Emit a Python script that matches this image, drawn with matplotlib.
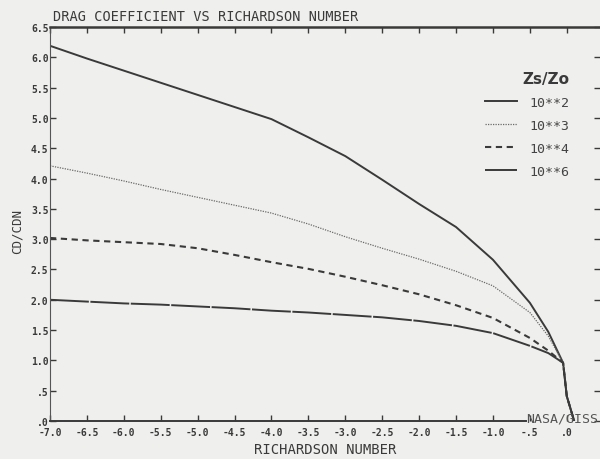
# drag coefficient vs richardson number, redrawn from an old NASA/GISS plot
import matplotlib
matplotlib.use("Agg")
from matplotlib import pyplot as plt

# data
ri = [-7.0, -6.5, -6.0, -5.5, -5.0, -4.5, -4.0, -3.5, -3.0, -2.5, -2.0, -1.5, -1.0, -0.5, -0.25, -0.05, 0.0, 0.1]
cd_1e2 = [6.19, 5.98, 5.78, 5.58, 5.38, 5.18, 4.98, 4.68, 4.37, 3.98, 3.58, 3.20, 2.66, 1.95, 1.47, 0.96, 0.41, 0.0]
cd_1e3 = [4.21, 4.09, 3.96, 3.82, 3.69, 3.56, 3.43, 3.25, 3.04, 2.85, 2.67, 2.47, 2.23, 1.79, 1.40, 0.96, 0.41, 0.0]
cd_1e4 = [3.02, 2.98, 2.95, 2.92, 2.85, 2.74, 2.62, 2.51, 2.38, 2.24, 2.09, 1.91, 1.70, 1.37, 1.16, 0.96, 0.41, 0.0]
cd_1e6 = [2.00, 1.97, 1.94, 1.92, 1.89, 1.86, 1.82, 1.79, 1.75, 1.71, 1.65, 1.57, 1.45, 1.24, 1.12, 0.96, 0.41, 0.0]
series_labels = ["10**2", "10**3", "10**4", "10**6"]

x_ticks = [-7.0, -6.5, -6.0, -5.5, -5.0, -4.5, -4.0, -3.5, -3.0, -2.5, -2.0, -1.5, -1.0, -0.5, 0.0]
x_tick_labels = ["-7.0", "-6.5", "-6.0", "-5.5", "-5.0", "-4.5", "-4.0", "-3.5", "-3.0",
                 "-2.5", "-2.0", "-1.5", "-1.0", "-.5", ".0"]
y_ticks = [0.0, 0.5, 1.0, 1.5, 2.0, 2.5, 3.0, 3.5, 4.0, 4.5, 5.0, 5.5, 6.0, 6.5]
y_tick_labels = [".0", ".5", "1.0", "1.5", "2.0", "2.5", "3.0", "3.5", "4.0", "4.5", "5.0", "5.5", "6.0", "6.5"]

paper = "#efefed"
ink = "#3a3a3a"
mono = "DejaVu Sans Mono"

fig = plt.figure(figsize=(6.0, 4.6), dpi=100, facecolor=paper)
ax = fig.add_axes([50 / 600, 38 / 460, 550 / 600, 394 / 460], facecolor=paper)

styles = [
    dict(linestyle="-", lw=1.4, color=ink),
    dict(linestyle=(0, (1, 1)), lw=0.9, color="#6a6a6a"),
    dict(linestyle=(0, (3, 2.2)), lw=1.5, color=ink),
    dict(linestyle=(0, (20, 0.8)), lw=1.4, color=ink),
]
for cd, lab, st in zip([cd_1e2, cd_1e3, cd_1e4, cd_1e6], series_labels, styles):
    ax.plot(ri, cd, label=lab, **st)

ax.set_xlim(-7.0, 0.45)
ax.set_ylim(0.0, 6.5)

ax.set_xticks(x_ticks)
ax.set_xticklabels(x_tick_labels, family=mono, fontweight="bold", fontsize=7, color=ink)
ax.set_yticks(y_ticks)
ax.set_yticklabels(y_tick_labels, family=mono, fontweight="bold", fontsize=7, color=ink)
ax.tick_params(axis="both", direction="in", length=4, width=1.0, color=ink,
               top=True, right=True)
ax.tick_params(axis="x", pad=4)
ax.tick_params(axis="y", pad=1)

# frame like the plotter output
ax.spines["right"].set_visible(False)
ax.spines["top"].set_linewidth(1.8)
ax.spines["top"].set_color(ink)
ax.spines["left"].set_linewidth(0.8)
ax.spines["left"].set_color("#555555")
ax.spines["bottom"].set_linewidth(1.4)
ax.spines["bottom"].set_color(ink)
ax.spines["bottom"].set_bounds(-7.0, -0.55)

ax.text(-0.55, 0.05, "NASA/GISS", family=mono, fontsize=9.5, color="#555555",
        ha="left", va="center", clip_on=False)

fig.text(53 / 600, 1 - 17 / 460, "DRAG COEFFICIENT VS RICHARDSON NUMBER",
         family=mono, fontsize=9.8, color=ink, ha="left", va="center")
ax.set_xlabel("RICHARDSON NUMBER", family=mono, fontsize=10, color=ink, labelpad=4)
fig.text(17 / 600, 1 - 232 / 460, "CD/CDN", family=mono, fontsize=9, color=ink,
         rotation=90, ha="center", va="center")

leg = ax.legend(loc="upper left", bbox_to_anchor=(485 / 600, 1 - 72 / 460),
                bbox_transform=fig.transFigure, frameon=False, borderpad=0,
                borderaxespad=0, handlelength=2.4, handletextpad=1.0,
                labelspacing=0.75, title="Zs/Zo", alignment="right",
                prop=dict(family=mono, size=9.5))
leg.get_title().set_fontweight("bold")
leg.get_title().set_fontsize(11)
leg.get_title().set_color(ink)
for t in leg.get_texts():
    t.set_color("#444444")

fig.savefig("out.png", dpi=100, facecolor=paper)
